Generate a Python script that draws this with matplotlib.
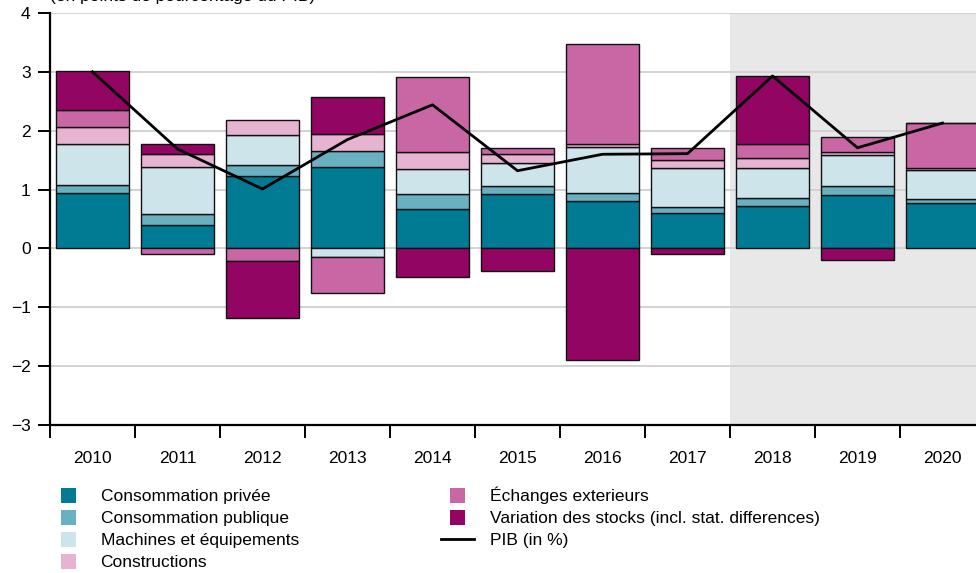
import matplotlib
matplotlib.use("Agg")
import matplotlib.pyplot as plt
import matplotlib.patches as mpatches
from matplotlib.legend_handler import HandlerPatch
from matplotlib.lines import Line2D
import numpy as np

plt.rcParams['font.family'] = ['Liberation Sans', 'DejaVu Sans']

years = ['2010', '2011', '2012', '2013', '2014', '2015', '2016', '2017', '2018', '2019', '2020']
conso_privee = [0.95, 0.39, 1.23, 1.38, 0.67, 0.92, 0.81, 0.60, 0.72, 0.90, 0.77]
conso_publique = [0.13, 0.20, 0.18, 0.28, 0.26, 0.14, 0.14, 0.10, 0.13, 0.16, 0.07]
machines = [0.70, 0.80, 0.52, -0.15, 0.42, 0.39, 0.78, 0.67, 0.51, 0.52, 0.50]
constructions = [0.29, 0.21, 0.25, 0.28, 0.29, 0.15, 0.04, 0.13, 0.17, 0.06, 0.02]
echanges = [0.28, -0.09, -0.22, -0.60, 1.27, 0.11, 1.71, 0.20, 0.24, 0.25, 0.77]
stocks = [0.66, 0.17, -0.96, 0.64, -0.48, -0.39, -1.89, -0.10, 1.16, -0.19, 0.0]
pib = [3.00, 1.69, 1.01, 1.85, 2.44, 1.32, 1.60, 1.61, 2.93, 1.71, 2.13]

labels = ['Consommation privée', 'Consommation publique', 'Machines et équipements',
          'Constructions', 'Échanges exterieurs',
          'Variation des stocks (incl. stat. differences)']
colors = ['#007b93', '#69b0c1', '#cde4ea', '#e6b3d1', '#c966a4', '#920562']
series = [conso_privee, conso_publique, machines, constructions, echanges, stocks]

W, H = 976, 573
fig = plt.figure(figsize=(W / 100, H / 100), dpi=100)
ax = fig.add_axes([50 / W, 1 - 425 / H, 926 / W, (425 - 13) / H])

x = np.arange(len(years))
ax.set_xlim(-0.5, (976 - 92.5) / 85)
ax.set_ylim(-3, 4)

ax.axvspan(7.5, 20, color='#e8e8e8', zorder=0, lw=0)
for yv in range(-3, 5):
    ax.axhline(yv, color='#d2d2d2', lw=1.4, zorder=1)

pos_base = np.zeros(len(years))
neg_base = np.zeros(len(years))
for vals, col, lab in zip(series, colors, labels):
    v = np.array(vals)
    bottoms = np.where(v >= 0, pos_base, neg_base)
    ax.bar(x, v, 0.85, bottom=bottoms, color=col, edgecolor='#111111',
           linewidth=1.0, zorder=2, label=lab)
    pos_base = pos_base + np.where(v >= 0, v, 0)
    neg_base = neg_base + np.where(v < 0, v, 0)

ax.plot(x, pib, color='black', lw=2.0, zorder=3, label='PIB (in %)')

for s in ['top', 'right']:
    ax.spines[s].set_visible(False)
for s in ['left', 'bottom']:
    ax.spines[s].set_linewidth(1.6)
    ax.spines[s].set_zorder(4)

ax.set_yticks(range(-3, 5))
ax.set_yticklabels(['\u22123', '\u22122', '\u22121', '0', '1', '2', '3', '4'])
ax.tick_params(axis='y', length=9, width=1.4, pad=5, labelsize=12.5)

ax.set_xticks(np.arange(-0.5, 10.0, 1.0))
ax.set_xticklabels([])
ax.tick_params(axis='x', which='major', length=9, width=1.4)
ax.set_xticks(x, minor=True)
ax.set_xticklabels(years, minor=True)
ax.tick_params(axis='x', which='minor', length=0, pad=19, labelsize=12.5)

fig.text(50 / W, 1 - 0.5 / H, '(en points de pourcentage du PIB)', ha='left', va='baseline',
         fontsize=12.5)


class SquareHandler(HandlerPatch):
    def create_artists(self, legend, orig_handle, xdescent, ydescent, width, height,
                       fontsize, trans):
        s = 11
        cx = -xdescent + width / 2
        cy = -ydescent + height / 2
        p = mpatches.Rectangle((cx - s / 2, cy - s / 2), s, s,
                               facecolor=orig_handle.get_facecolor(), edgecolor='none',
                               transform=trans)
        return [p]


handles = [mpatches.Patch(facecolor=c, label=l) for c, l in zip(colors, labels)]
handles.append(Line2D([0], [0], color='black', lw=2.0, label='PIB (in %)'))
leg = fig.legend(handles=handles, ncol=2, loc='upper left',
                 bbox_to_anchor=(52 / W, 1 - 487 / H), frameon=False,
                 fontsize=12.5, handlelength=1.9, handleheight=0.9,
                 handletextpad=0.9, labelspacing=0.33, columnspacing=8.2,
                 borderaxespad=0, borderpad=0,
                 handler_map={mpatches.Patch: SquareHandler()})

fig.savefig('out.png', dpi=100)
